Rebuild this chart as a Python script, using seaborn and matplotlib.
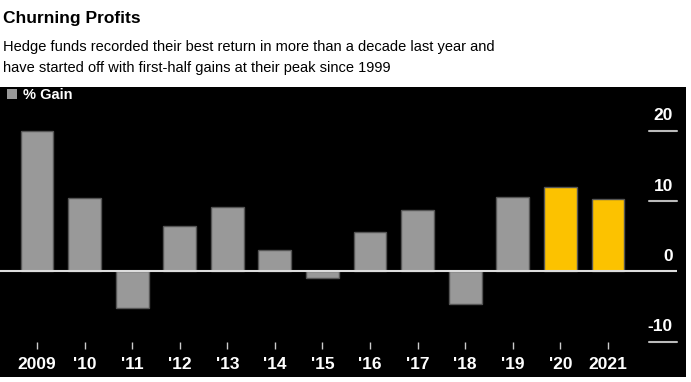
import matplotlib
matplotlib.use("Agg")
import matplotlib.pyplot as plt
import matplotlib.transforms as mtransforms
from matplotlib.patches import Rectangle
import seaborn as sns
import pandas as pd

# ---- data ----
years = ["2009", "'10", "'11", "'12", "'13", "'14", "'15", "'16", "'17", "'18", "'19", "'20", "2021"]
gains = [20.0, 10.4, -5.2, 6.5, 9.2, 3.1, -0.9, 5.6, 8.7, -4.6, 10.6, 12.0, 10.3]
groups = ["past"] * 11 + ["recent"] * 2
yticks = [20, 10, 0, -10]
title = "Churning Profits"
subtitle = ("Hedge funds recorded their best return in more than a decade last year and\n"
            "have started off with first-half gains at their peak since 1999")
legend_label = "% Gain"

GRAY = "#999999"
YELLOW = "#fcc200"

sns.set_theme(style="white")
plt.rcParams['font.family'] = ['Liberation Sans', 'DejaVu Sans']

W, H = 691, 382
fig = plt.figure(figsize=(W / 100, H / 100), dpi=100, facecolor="white")

# black panel as a background axes
bg = fig.add_axes([0, 1 - 377 / H, 686 / W, 290 / H], zorder=0)
bg.set_facecolor("black")
bg.set_xticks([])
bg.set_yticks([])
for s in bg.spines.values():
    s.set_visible(False)

ax = fig.add_axes([0, 1 - 341.7 / H, 677 / W, (341.7 - 87) / H], zorder=2)
ax.set_facecolor("none")

df = pd.DataFrame({"year": years, "gain": gains, "group": groups})
sns.barplot(data=df, x="year", y="gain", hue="group", palette={"past": GRAY, "recent": YELLOW},
            dodge=False, width=0.69, legend=False, ax=ax, edgecolor="#555555", linewidth=1.0,
            saturation=1)

ax.set_xlim(-0.777, 13.45)
ax.set_ylim(-10, 26.27)
for s in ax.spines.values():
    s.set_visible(False)
ax.set_xlabel("")
ax.set_ylabel("")
ax.set_yticks([])
ax.tick_params(axis="x", direction="out", length=5, width=1, color="#cccccc", pad=6,
               labelsize=12.5, labelcolor="white", bottom=True)
for lbl in ax.get_xticklabels():
    lbl.set_fontweight("bold")

# zero line
ax.axhline(0, color="#dddddd", linewidth=1.5, zorder=3)
# short gridlines at right with labels
trans = mtransforms.blended_transform_factory(ax.transAxes, ax.transData)
for t in yticks:
    if t != 0:
        ax.plot([649 / 677, 1.0], [t, t], transform=trans, color="#bbbbbb", linewidth=1.5,
                clip_on=False, zorder=3)
    off = mtransforms.offset_copy(trans, fig=fig, x=-3, y=5.5, units="points")
    ax.text(1.0, t, f"{t}", transform=off, ha="right", va="bottom", color="white",
            fontsize=12.5, fontweight="bold")

# legend
fig.patches.append(Rectangle((7 / W, 1 - 99 / H), 10 / W, 10 / H, transform=fig.transFigure,
                             facecolor=GRAY, edgecolor="none", zorder=5))
fig.text(23 / W, 1 - 99 / H, legend_label, color="white", fontsize=10.5, fontweight="bold",
         va="baseline", ha="left", zorder=5)

# titles
fig.text(3 / W, 1 - 23 / H, title, fontsize=12.5, fontweight="bold", color="black",
         va="baseline", ha="left")
fig.text(3 / W, 1 - 72 / H, subtitle, fontsize=10.5, color="black", va="baseline", ha="left",
         linespacing=1.6)

fig.savefig("out.png", dpi=100, facecolor="white")
